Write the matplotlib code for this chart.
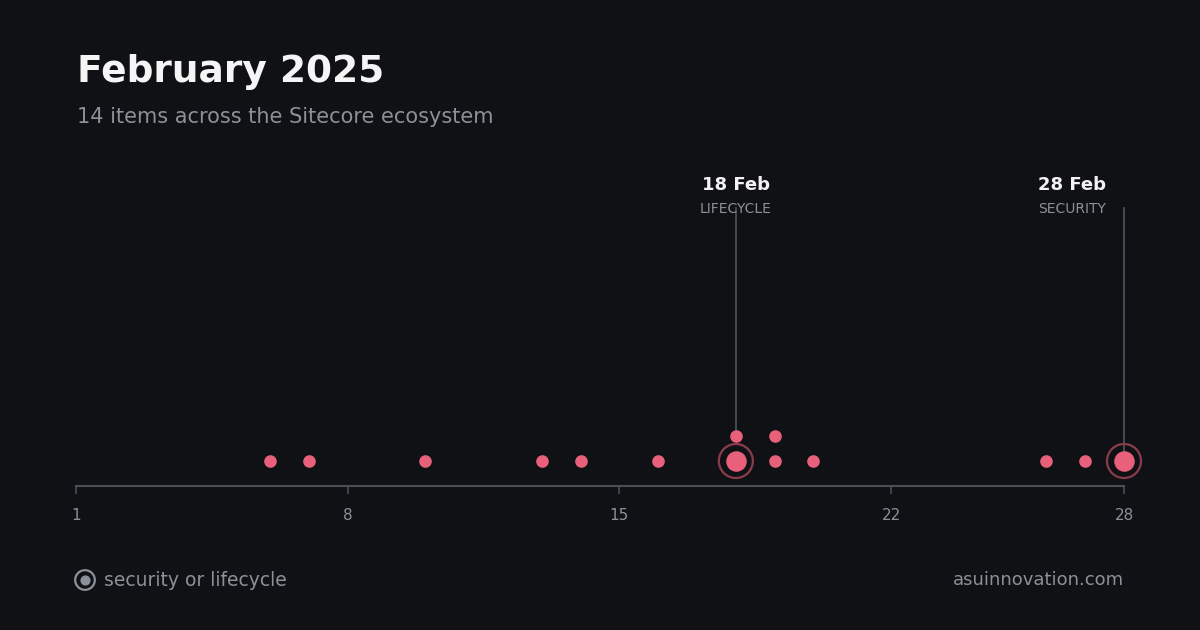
import matplotlib.pyplot as plt

BG = "#0f1115"
DOT = "#e8607a"

# day of month, stack level within the day, highlighted?
days = [6, 7, 10, 13, 14, 16, 18, 18, 19, 19, 20, 26, 27, 28]
levels = [0, 0, 0, 0, 0, 0, 0, 1, 0, 1, 0, 0, 0, 0]
big = [False] * 14
big[6] = True
big[13] = True
callout_days = [18, 28]
callout_titles = ["18 Feb", "28 Feb"]
callout_kinds = ["LIFECYCLE", "SECURITY"]
ticks = [1, 8, 15, 22, 28]

W, H = 1200, 630
fig = plt.figure(figsize=(12, 6.3), dpi=100, facecolor=BG)
# axes in pixel-based units: y = pixels above the axis line (at 486px)
ax = fig.add_axes([76 / W, (H - 486) / H, (1124 - 76) / W, 336 / H])
ax.set_facecolor(BG)
ax.set_xlim(1, 28)
ax.set_ylim(0, 336)
for s in ["top", "right", "left"]:
    ax.spines[s].set_visible(False)
ax.spines["bottom"].set_color("#4a4e56")
ax.spines["bottom"].set_linewidth(1.5)
ax.set_yticks([])
ax.set_xticks(ticks)
ax.set_xticklabels([str(t) for t in ticks])
ax.tick_params(axis="x", colors="#4a4e56", length=6, width=1.2, pad=10,
               labelcolor="#8b9099", labelsize=11)
ax.patch.set_alpha(0)

ys = [25 + 25 * l for l in levels]

# callout lines; labels near the right edge get shifted left
for d, t, k in zip(callout_days, callout_titles, callout_kinds):
    top = max(y for dd, y in zip(days, ys) if dd == d)
    ax.plot([d, d], [top, 278], color="#4a4e56", lw=1.3, zorder=1, clip_on=False)
    lx = d if d < 25 else d - 52 / 38.8
    ax.text(lx, 301, t, color="#f2f2f2", fontsize=13, fontweight="bold",
            ha="center", va="center", clip_on=False)
    ax.text(lx, 277, k, color="#8b9099", fontsize=10, ha="center",
            va="center", clip_on=False)

for d, y, b in zip(days, ys, big):
    if b:
        ax.scatter(d, y, s=600, facecolor="none", edgecolor="#8a3c4c",
                   linewidth=1.6, zorder=2, clip_on=False)
        ax.scatter(d, y, s=190, color=DOT, zorder=3, clip_on=False)
    else:
        ax.scatter(d, y, s=65, color=DOT, zorder=3, clip_on=False)

fig.text(77 / W, 1 - 72 / H, "February 2025", color="#f5f5f5", fontsize=27,
         fontweight="bold", va="center")
fig.text(77 / W, 1 - 117 / H, "14 items across the Sitecore ecosystem",
         color="#8b9099", fontsize=15, va="center")

# legend marker (scatter in figure coords keeps it round)
leg = fig.add_axes([0, 0, 1, 1], facecolor="none")
leg.set_xlim(0, W)
leg.set_ylim(H, 0)
leg.axis("off")
leg.scatter([85], [580], s=200, facecolor="none", edgecolor="#8b9099", linewidth=1.6)
leg.scatter([85], [580], s=40, color="#8b9099")
leg.text(104, 580, "security or lifecycle", color="#8b9099", fontsize=13.5,
         va="center")
leg.text(1124, 580, "asuinnovation.com", color="#8b9099", fontsize=13,
         va="center", ha="right")

fig.savefig("out.png", dpi=100, facecolor=BG)
